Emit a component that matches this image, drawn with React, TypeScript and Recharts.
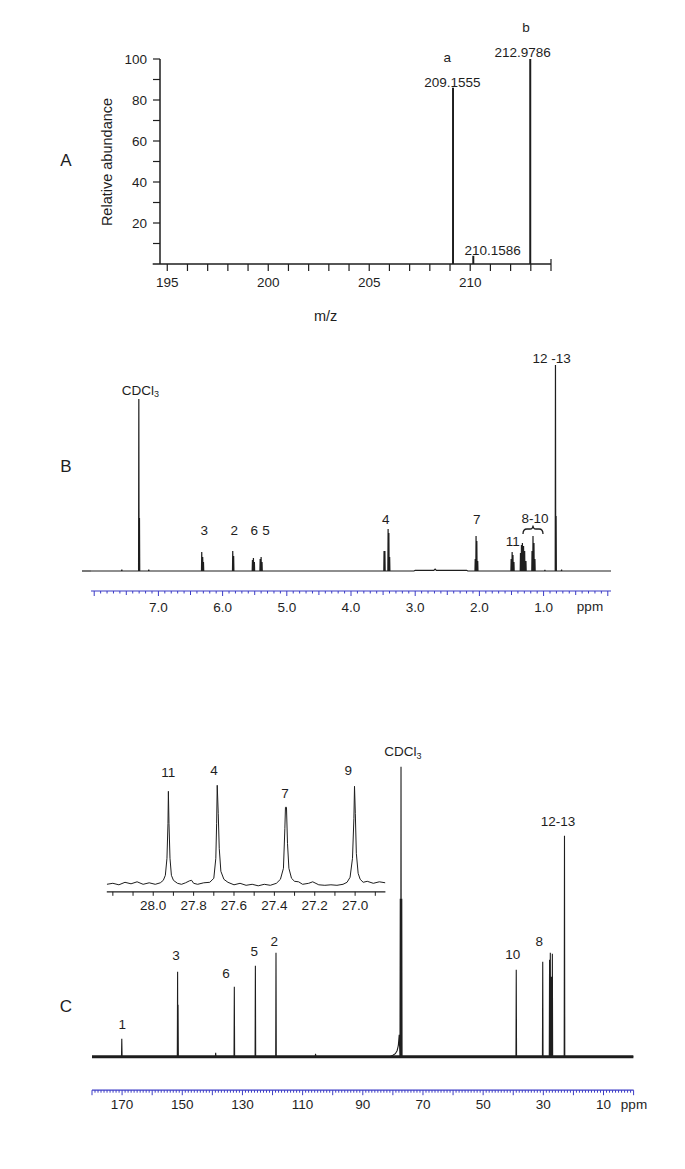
import React from "react";
import { BarChart, Bar, XAxis, YAxis, LineChart, Line } from "recharts";

const FONT = '"Liberation Sans", Arial, sans-serif';
const INK = "#1e1e1e";
const BLUE = "#3b3bc6";

// A: mass spectrum
const msPeaks = [
  { mz: 209.1555, abundance: 86 },
  { mz: 210.1586, abundance: 4 },
  { mz: 212.9786, abundance: 100 },
];
const msXTicks = [195, 196, 197, 198, 199, 200, 201, 202, 203, 204, 205, 206, 207, 208, 209, 210, 211, 212, 213, 214];
const msXLabels = [195, 200, 205, 210];
const msYTicks = [10, 20, 30, 40, 50, 60, 70, 80, 90, 100];
const msYLabels = [20, 40, 60, 80, 100];

// B: 1H NMR, individual lines [ppm, intensity]
const hLines: [number, number][] = [
  [7.57, 1.5], [7.305, 172], [7.295, 53], [7.15, 1.5],
  [6.325, 19], [6.31, 14], [6.298, 9],
  [5.842, 20], [5.828, 15],
  [5.535, 11], [5.52, 13], [5.505, 9],
  [5.415, 12], [5.4, 14], [5.386, 9],
  [3.485, 20], [3.472, 20], [3.422, 42], [3.41, 38], [3.398, 14],
  [2.065, 12], [2.052, 35], [2.04, 30], [2.026, 10],
  [1.505, 12], [1.49, 19], [1.477, 16], [1.462, 9],
  [1.36, 18], [1.345, 26], [1.33, 28], [1.312, 25], [1.295, 20], [1.275, 10],
  [1.18, 20], [1.165, 35], [1.15, 28], [1.135, 12],
  [0.98, 1], [0.815, 206], [0.805, 55], [0.72, 1.5],
];
const hBaseline: [number, number][] = [
  [3.02, 0], [3.0, 0.7], [2.71, 0.7], [2.69, 2], [2.67, 0.7], [2.2, 0.7], [2.18, 0],
];
const hTickLabels = [7, 6, 5, 4, 3, 2, 1];

// C: 13C NMR, individual lines [ppm, intensity]
const cLines: [number, number][] = [
  [170.1, 18], [151.55, 85], [151.4, 52], [138.9, 4], [132.7, 70],
  [125.7, 91], [118.85, 104], [105.7, 3],
  [77.55, 158], [77.3, 290], [77.05, 158],
  [39.0, 87], [30.2, 95], [27.93, 97], [27.68, 104], [27.35, 80], [27.0, 103],
  [22.97, 221],
];
const cSolventHump: [number, number][] = [
  [81, 0], [80, 1.5], [79.2, 3], [78.6, 6], [78.2, 11], [77.9, 22],
];
const cTickLabels = [170, 150, 130, 110, 90, 70, 50, 30, 10];

// C inset: 27-28 ppm region
const insetTrace: [number, number][] = [
  [28.23, -1], [28.2, 0], [28.17, -1.5], [28.14, 1], [28.11, -0.5], [28.08, 1.5],
  [28.05, -1], [28.02, 0.5], [27.99, -1], [27.965, 0.5], [27.95, 3], [27.94, 8],
  [27.932, 25], [27.927, 60], [27.925, 92], [27.922, 60], [27.917, 25], [27.91, 8],
  [27.9, 3], [27.88, 0], [27.86, -1], [27.84, 0.5], [27.82, 2.5], [27.81, 3],
  [27.8, 0], [27.78, -1], [27.75, 0.5], [27.72, 1], [27.7, 5], [27.69, 25],
  [27.686, 60], [27.683, 98], [27.678, 70], [27.673, 35], [27.665, 12], [27.65, 4],
  [27.63, 1], [27.6, -1.5], [27.57, 0], [27.54, -2], [27.51, -1], [27.48, -2.5],
  [27.45, -1], [27.42, -2], [27.39, 0], [27.37, 4], [27.355, 15], [27.348, 55],
  [27.345, 76], [27.34, 76], [27.335, 40], [27.328, 15], [27.315, 5], [27.3, 2],
  [27.28, 1.5], [27.26, -1], [27.23, 0], [27.21, 1.5], [27.18, -1.5], [27.15, -2],
  [27.12, -1.5], [27.09, -2], [27.06, -1], [27.04, 1], [27.025, 6], [27.013, 25],
  [27.006, 65], [27.003, 97], [26.999, 70], [26.994, 30], [26.985, 10], [26.975, 4],
  [26.96, 1], [26.94, 2], [26.91, 0], [26.88, 1.5], [26.85, 0.5],
];
const insetTickLabels = [28.0, 27.8, 27.6, 27.4, 27.2, 27.0];

function stickTrace(lines: [number, number][], extra: [number, number][], from: number, to: number, half: number) {
  const pts: [number, number][] = [[from, 0], [to, 0], ...extra];
  lines.forEach(([p, h]) => {
    pts.push([p + half, 0], [p, h], [p - half, 0]);
  });
  return pts.sort((a, b) => b[0] - a[0]).map(([ppm, i]) => ({ ppm, i }));
}

const hData = stickTrace(hLines, hBaseline, 8.05, -0.05, 0.004);
const cData = stickTrace(cLines, cSolventHump, 180, 0, 0.1);
const cBand = [{ ppm: 180, i: 0 }, { ppm: 0, i: 0 }];
const insetData = insetTrace.map(([ppm, i]) => ({ ppm, i }));

const hTicks = Array.from({ length: 81 }, (_, k) => k / 10);
const cTicks = Array.from({ length: 181 }, (_, k) => k);
const insetTicks = Array.from({ length: 14 }, (_, k) => 26.9 + k / 10);

const labelStyle = { fill: INK, fontSize: 13.5, fontFamily: FONT };

function HTick({ x, y, payload }: any) {
  const t = Math.round(payload.value * 10);
  const len = t % 10 === 0 ? 5 : t % 5 === 0 ? 4 : 2.5;
  const show = t % 10 === 0 && hTickLabels.includes(t / 10);
  return (
    <g>
      <line x1={x} x2={x} y1={y} y2={y + len} stroke={BLUE} strokeWidth={1} />
      {show && (
        <text x={x} y={y + 11} dy="0.71em" textAnchor="middle" {...labelStyle}>
          {(t / 10).toFixed(1)}
        </text>
      )}
    </g>
  );
}

function CTick({ x, y, payload }: any) {
  const v = Math.round(payload.value);
  const len = v % 10 === 0 ? 5 : 2.5;
  const show = cTickLabels.includes(v);
  return (
    <g>
      <line x1={x} x2={x} y1={y} y2={y + len} stroke={BLUE} strokeWidth={1} />
      {show && (
        <text x={x} y={y + 9} dy="0.71em" textAnchor="middle" {...labelStyle}>
          {v}
        </text>
      )}
    </g>
  );
}

function InsetTick({ x, y, payload }: any) {
  const t = Math.round(payload.value * 10);
  const show = insetTickLabels.some((l) => Math.round(l * 10) === t);
  return (
    <g>
      <line x1={x} x2={x} y1={y} y2={y + 4} stroke={INK} strokeWidth={1} />
      {show && (
        <text x={x} y={y + 9} dy="0.71em" textAnchor="middle" {...labelStyle}>
          {(t / 10).toFixed(1)}
        </text>
      )}
    </g>
  );
}

function Txt({ x, y, children, size = 13.5, anchor = "middle" }: any) {
  return (
    <text x={x} y={y} textAnchor={anchor} dominantBaseline="central" fill={INK} fontSize={size} fontFamily={FONT}>
      {children}
    </text>
  );
}

function Cdcl3({ x, y }: { x: number; y: number }) {
  return (
    <text x={x} y={y} textAnchor="middle" dominantBaseline="central" fill={INK} fontSize={13.5} fontFamily={FONT}>
      CDCl<tspan dy={4} fontSize={9}>3</tspan>
    </text>
  );
}

export default function App() {
  return (
    <div style={{ position: "absolute", left: 0, top: 0, width: 685, height: 1169, background: "#fff", fontFamily: FONT }}>
      {/* A */}
      <div style={{ position: "absolute", left: 0, top: 0 }}>
        <BarChart width={685} height={340} data={msPeaks} margin={{ top: 59, right: 134, bottom: 46, left: 120 }}>
          <XAxis
            type="number"
            dataKey="mz"
            domain={[194.64, 214]}
            allowDataOverflow
            ticks={msXTicks}
            interval={0}
            height={30}
            tickSize={7}
            tickMargin={6}
            tickFormatter={(v: number) => (msXLabels.includes(v) ? String(v) : "")}
            tick={labelStyle}
            axisLine={{ stroke: INK, strokeWidth: 1.5 }}
            tickLine={{ stroke: INK, strokeWidth: 1.2 }}
          />
          <YAxis
            type="number"
            domain={[0, 100]}
            ticks={msYTicks}
            interval={0}
            width={40}
            tickSize={7}
            tickMargin={6}
            tickFormatter={(v: number) => (msYLabels.includes(v) ? String(v) : "")}
            tick={labelStyle}
            axisLine={{ stroke: INK, strokeWidth: 1.5 }}
            tickLine={{ stroke: INK, strokeWidth: 1.2 }}
          />
          <Bar dataKey="abundance" fill={INK} barSize={2} isAnimationActive={false} />
        </BarChart>
      </div>

      {/* B */}
      <div style={{ position: "absolute", left: 0, top: 0 }}>
        <LineChart width={685} height={640} data={hData} margin={{ top: 356, right: 74, bottom: 19, left: 91 }}>
          <XAxis
            type="number"
            dataKey="ppm"
            domain={[-0.05, 8.05]}
            reversed
            allowDataOverflow
            ticks={hTicks}
            interval={0}
            height={30}
            tickSize={0}
            tickMargin={0}
            tickLine={false}
            tick={HTick}
            axisLine={{ stroke: BLUE, strokeWidth: 1.2 }}
          />
          <YAxis hide domain={[-20, 215]} allowDataOverflow />
          <Line type="linear" dataKey="i" stroke={INK} strokeWidth={1.2} dot={false} isAnimationActive={false} />
        </LineChart>
      </div>

      {/* C */}
      <div style={{ position: "absolute", left: 0, top: 0 }}>
        <LineChart width={685} height={1169} margin={{ top: 756.7, right: 51.4, bottom: 48.8, left: 92 }}>
          <XAxis
            type="number"
            dataKey="ppm"
            domain={[0, 180]}
            reversed
            allowDataOverflow
            ticks={cTicks}
            interval={0}
            height={30}
            tickSize={0}
            tickMargin={0}
            tickLine={false}
            tick={CTick}
            axisLine={{ stroke: BLUE, strokeWidth: 1.2 }}
          />
          <YAxis hide domain={[-33.5, 300]} allowDataOverflow />
          <Line data={cBand} type="linear" dataKey="i" stroke={INK} strokeWidth={3} dot={false} isAnimationActive={false} />
          <Line data={cData} type="linear" dataKey="i" stroke={INK} strokeWidth={1.1} dot={false} isAnimationActive={false} />
        </LineChart>
      </div>

      {/* C inset */}
      <div style={{ position: "absolute", left: 0, top: 740 }}>
        <LineChart width={420} height={190} data={insetData} margin={{ top: 38.3, right: 34.6, bottom: 8.2, left: 106.8 }}>
          <XAxis
            type="number"
            dataKey="ppm"
            domain={[26.85, 28.23]}
            reversed
            allowDataOverflow
            ticks={insetTicks}
            interval={0}
            height={30}
            tickSize={0}
            tickMargin={0}
            tickLine={false}
            tick={InsetTick}
            axisLine={{ stroke: INK, strokeWidth: 1.2 }}
          />
          <YAxis hide domain={[-8.5, 105]} allowDataOverflow />
          <Line type="linear" dataKey="i" stroke={INK} strokeWidth={1} dot={false} isAnimationActive={false} />
        </LineChart>
      </div>

      {/* annotations */}
      <svg width={685} height={1169} style={{ position: "absolute", left: 0, top: 0, pointerEvents: "none" }}>
        {/* A */}
        <line x1={152.7} x2={160} y1={264} y2={264} stroke={INK} strokeWidth={1.5} />
        <line x1={551} x2={551} y1={259} y2={264} stroke={INK} strokeWidth={1.2} />
        <Txt x={66} y={160} size={17}>A</Txt>
        <Txt x={447.3} y={57.3}>a</Txt>
        <Txt x={452.3} y={82.3}>209.1555</Txt>
        <Txt x={526} y={27}>b</Txt>
        <Txt x={522.7} y={52.3}>212.9786</Txt>
        <Txt x={492.7} y={250.3}>210.1586</Txt>
        <text x={106.7} y={162} transform="rotate(-90 106.7 162)" textAnchor="middle" dominantBaseline="central" fill={INK} fontSize={14.5} fontFamily={FONT}>
          Relative abundance
        </text>
        <Txt x={325.7} y={316} size={14.5}>m/z</Txt>

        {/* B */}
        <line x1={82} x2={91} y1={571} y2={571} stroke={INK} strokeWidth={1.2} />
        <Txt x={66} y={466} size={17}>B</Txt>
        <Cdcl3 x={140.5} y={390} />
        <Txt x={204.3} y={530.7}>3</Txt>
        <Txt x={234.3} y={530.7}>2</Txt>
        <Txt x={254.3} y={530.7}>6</Txt>
        <Txt x={266} y={530.7}>5</Txt>
        <Txt x={385.7} y={519.3}>4</Txt>
        <Txt x={476.7} y={519.3}>7</Txt>
        <Txt x={512.7} y={541.7}>11</Txt>
        <Txt x={535} y={518.3}>8-10</Txt>
        <path d="M523 534 Q523 529 527 529 L530 529 Q533 529 533 525.5 Q533 529 536 529 L539 529 Q543 529 543 534" fill="none" stroke={INK} strokeWidth={1.3} />
        <Txt x={551.7} y={358}>12 -13</Txt>
        <Txt x={590} y={606.7}>ppm</Txt>

        {/* C */}
        <Txt x={66} y={1006} size={17}>C</Txt>
        <Cdcl3 x={403} y={751.7} />
        <Txt x={168.3} y={772.7}>11</Txt>
        <Txt x={214} y={770.7}>4</Txt>
        <Txt x={285} y={793.3}>7</Txt>
        <Txt x={348.3} y={770.7}>9</Txt>
        <Txt x={122.3} y={1024}>1</Txt>
        <Txt x={176} y={955}>3</Txt>
        <Txt x={226} y={973.3}>6</Txt>
        <Txt x={254.3} y={951.7}>5</Txt>
        <Txt x={274.3} y={941.7}>2</Txt>
        <Txt x={512.7} y={954}>10</Txt>
        <Txt x={539.3} y={941.7}>8</Txt>
        <Txt x={558} y={821.7}>12-13</Txt>
        <Txt x={634} y={1104}>ppm</Txt>
      </svg>
    </div>
  );
}
